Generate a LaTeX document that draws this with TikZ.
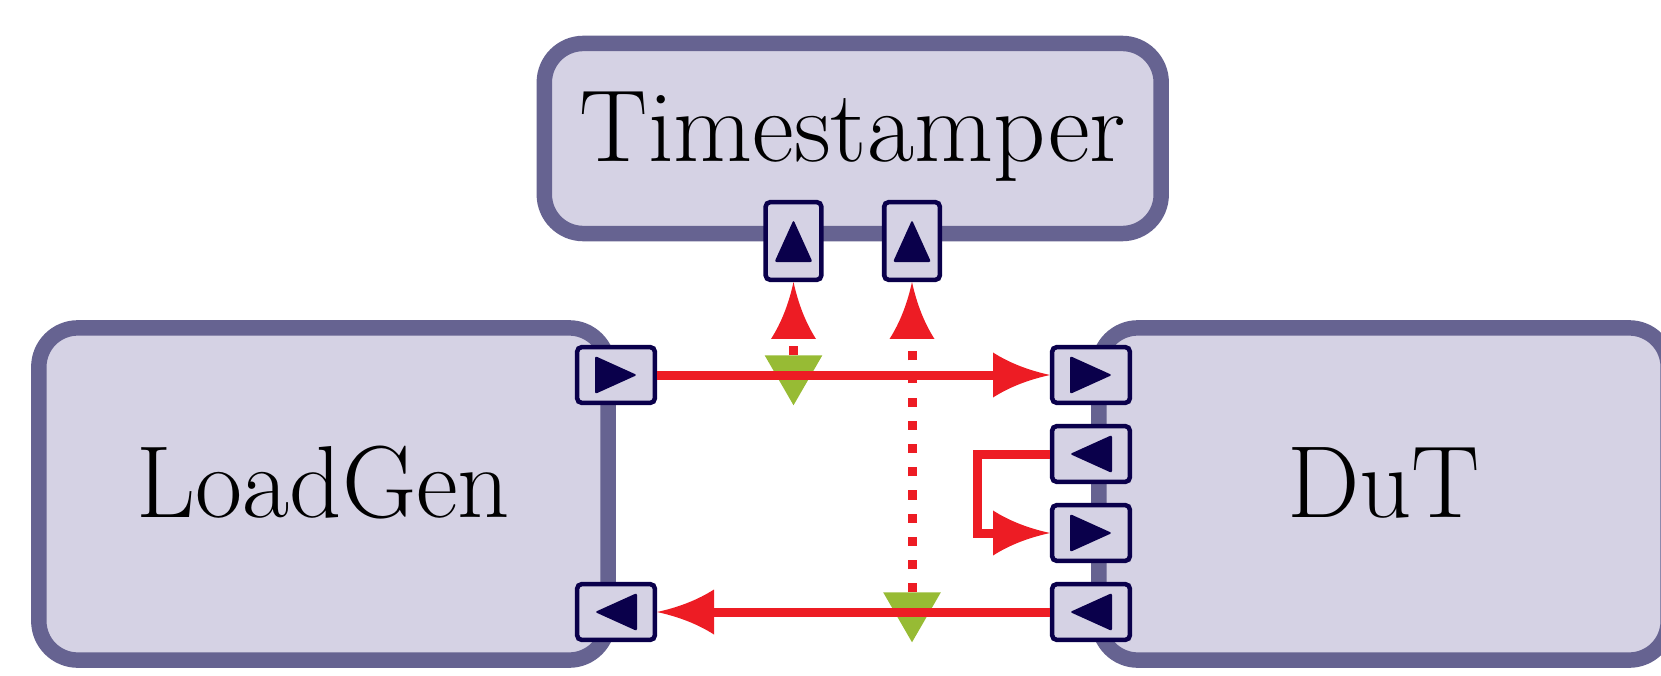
\documentclass[tikz,border=0pt]{standalone}
\usetikzlibrary{arrows.meta,shapes.geometric,calc}

% Filled arrow head with a flat back and gently concave flanks
\pgfdeclarearrow{
  name = Concave,
  parameters = {\the\pgfarrowlength,\the\pgfarrowwidth},
  setup code = {
    \pgfarrowssettipend{\pgfarrowlength}
    \pgfarrowssetbackend{0pt}
    \pgfarrowssetlineend{1pt}
    \pgfarrowshullpoint{\pgfarrowlength}{0pt}
    \pgfarrowsupperhullpoint{0pt}{.5\pgfarrowwidth}
    \pgfarrowssavethe\pgfarrowlength
    \pgfarrowssavethe\pgfarrowwidth
  },
  drawing code = {
    \pgfpathmoveto{\pgfqpoint{\pgfarrowlength}{0pt}}
    \pgfpathquadraticcurveto{\pgfqpoint{.42\pgfarrowlength}{.16\pgfarrowwidth}}{\pgfqpoint{0pt}{.5\pgfarrowwidth}}
    \pgfpathlineto{\pgfqpoint{0pt}{-.5\pgfarrowwidth}}
    \pgfpathquadraticcurveto{\pgfqpoint{.42\pgfarrowlength}{-.16\pgfarrowwidth}}{\pgfqpoint{\pgfarrowlength}{0pt}}
    \pgfpathclose
    \pgfusepathqfill
  },
  defaults = {length = 16.2pt, width = 12.8pt}
}

\definecolor{boxfill}{RGB}{213,210,228}
\definecolor{boxline}{RGB}{102,99,145}
\definecolor{portline}{RGB}{10,0,75}
\definecolor{sigred}{RGB}{237,28,36}
\definecolor{tapgreen}{RGB}{151,187,52}

% navy direction triangle inside a port: #1 = port node, #2 = direction angle
\newcommand\portmark[2]{%
  \fill[markfill, shift={(#1.center)}, rotate=#2] (21,0) -- (-21,-19) -- (-21,19) -- cycle;}

\begin{document}
\begin{tikzpicture}[
  x=0.01cm, y=-0.01cm,
  blockbox/.style={draw=boxline, fill=boxfill, line width=4.4pt, rounded corners=0.39cm,
    inner sep=0pt, text height=0.65cm, text depth=0.185cm,
    font=\fontsize{29.1pt}{34pt}\selectfont},
  hport/.style={draw=portline, fill=boxfill, line width=1.28pt, rounded corners=1.2pt,
    inner sep=0pt, minimum width=0.775cm, minimum height=0.555cm},
  vport/.style={hport, minimum width=0.555cm, minimum height=0.775cm},
  markfill/.style={fill=portline, rounded corners=0.6pt},
  tapmark/.style={regular polygon, regular polygon sides=3, shape border rotate=180,
    fill=tapgreen, minimum size=0.665cm, inner sep=0pt, outer sep=0pt},
  sigline/.style={draw=sigred, line width=2.56pt, -{Concave}},
  tapline/.style={sigline, dash pattern=on 2.6pt off 4pt}
]
\useasboundingbox (0,0) rectangle (1661,676);

% blocks
\node[blockbox, minimum width=6.165cm, minimum height=1.9cm] (ts) at (852.75,138.5) {Timestamper};
\node[blockbox, minimum width=5.69cm, minimum height=3.32cm] (lg) at (323.5,494) {LoadGen};
\node[blockbox, minimum width=5.69cm, minimum height=3.32cm] (dut) at (1383.5,494) {DuT};

% ports
\node[hport] (lgout) at (616,375) {};
\node[hport] (lgin)  at (616,612) {};
\node[hport] (dutA)  at (1091,375) {};
\node[hport] (dutB)  at (1091,454) {};
\node[hport] (dutC)  at (1091,533) {};
\node[hport] (dutD)  at (1091,612) {};
\node[vport] (tsA)   at (793.5,241) {};
\node[vport] (tsB)   at (912,241) {};

\portmark{lgout}{0}
\portmark{lgin}{180}
\portmark{dutA}{0}
\portmark{dutB}{180}
\portmark{dutC}{0}
\portmark{dutD}{180}
\portmark{tsA}{90}
\portmark{tsB}{90}

% tap points on the two links
\node[tapmark] (tapA) at (793.5,372) {};
\node[tapmark] (tapB) at (912,609) {};

% links
\draw[sigline] (lgout) -- (dutA);
\draw[sigline] (dutD) -- (lgin);
\draw[sigline] (dutB.west) -- ++(-72,0) |- (dutC.west);
\draw[tapline] (tapA) -- (tsA);
\draw[tapline] (tapB) -- (tsB);
\end{tikzpicture}
\end{document}
